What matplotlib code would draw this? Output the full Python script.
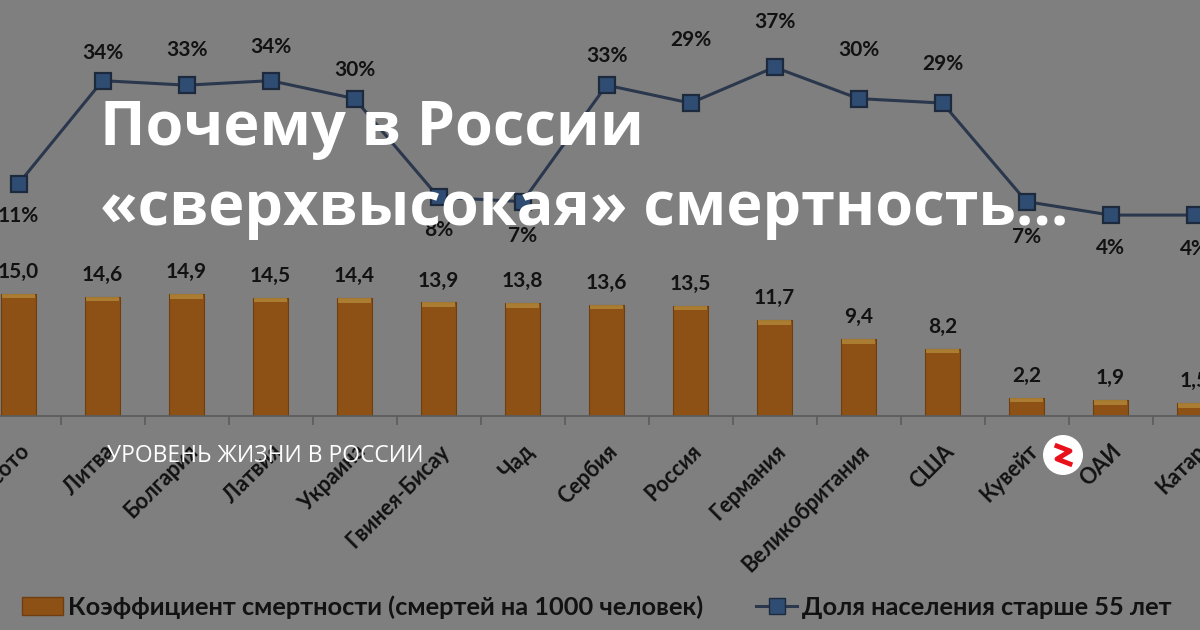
import matplotlib
matplotlib.use("Agg")
import matplotlib.pyplot as plt
import matplotlib.transforms as mtransforms
from matplotlib.patches import Patch, Circle
from matplotlib.lines import Line2D
import numpy as np

# ---------------- data ----------------
countries = ["Лесото", "Литва", "Болгария", "Латвия", "Украина", "Гвинея-Бисау",
             "Чад", "Сербия", "Россия", "Германия", "Великобритания", "США",
             "Кувейт", "ОАИ", "Катар"]
death_rate = [15.0, 14.6, 14.9, 14.5, 14.4, 13.9, 13.8, 13.6, 13.5, 11.7, 9.4, 8.2, 2.2, 1.9, 1.5]
share_55 = [11, 34, 33, 34, 30, 8, 7, 33, 29, 37, 30, 29, 7, 4, 4]

bar_label = "Коэффициент смертности (смертей на 1000 человек)"
line_label = "Доля населения старше 55 лет"
title_1 = "Почему в России"
title_2 = "«сверхвысокая» смертность..."
subtitle = "УРОВЕНЬ ЖИЗНИ В РОССИИ"

# label offsets (pixels, negative = above) for percentage labels
pct_offsets = [32, -28, -35, -34, -29, 33, 34, -29, -63, -45, -49, -39, 35, 33, 34]

# ---------------- style ----------------
BG = "#7f7f7f"
BAR = "#8d5115"
BAR_EDGE = "#6e3e10"
BAR_TOP = "#b58c3c"
LINE = "#2a374c"
MK_FACE = "#2f4c72"
MK_EDGE = "#1d2a3d"
TXT = "#121212"
PT = 0.72  # points per pixel at dpi 100

plt.rcParams["font.family"] = ["Lato", "DejaVu Sans"]

fig = plt.figure(figsize=(12, 6.3), dpi=100, facecolor=BG)
W, H = 1200, 630
base_px = 415.5
ax = fig.add_axes([0, (H - base_px) / H, 1, base_px / H])
ax.set_facecolor("none")
x = np.arange(len(countries))
step = 84.0
x0 = 18.5

ax.bar(x, death_rate, width=0.42, color=BAR, edgecolor=BAR_EDGE, linewidth=0.8, zorder=2)
cap = 0.55
ax.bar(x, [cap] * len(x), bottom=[v - cap for v in death_rate], width=0.40,
       color=BAR_TOP, alpha=0.75, linewidth=0, zorder=3)

for xi, v in zip(x, death_rate):
    ax.annotate(f"{v:.1f}".replace(".", ","), (xi, v), xytext=(0, 22 * PT),
                textcoords="offset points", ha="center", va="center",
                fontsize=15, fontweight="bold", color=TXT)

for s in ["top", "left", "right"]:
    ax.spines[s].set_visible(False)
ax.spines["bottom"].set_color("#5c5c5c")
ax.spines["bottom"].set_linewidth(1.3)
ax.set_yticks([])
ax.set_xticks(np.arange(-0.5, len(x) + 0.5, 1))
ax.set_xticklabels([])
ax.tick_params(axis="x", direction="out", length=9 * PT, width=1.2, color="#5c5c5c")
ax.set_xlim(-x0 / step, (W - x0) / step)
ax.set_ylim(0, base_px / 8.13)

trans = mtransforms.blended_transform_factory(ax.transData, ax.transAxes)
for xi, name in zip(x, countries):
    ax.text(xi + 8 / step, (base_px - 448) / base_px, name, transform=trans,
            rotation=45, rotation_mode="anchor", ha="right", va="center",
            fontsize=15.5, fontweight="bold", color=TXT)

ax2 = ax.twinx()
ax2.set_facecolor("none")
ppu = 4.48
zero_h = base_px - 233
ax2.set_ylim(-zero_h / ppu, (base_px - zero_h) / ppu)
ax2.axis("off")
ax2.plot(x, share_55, color=LINE, linewidth=2.2, marker="s", markersize=11.5,
         markerfacecolor=MK_FACE, markeredgecolor=MK_EDGE, markeredgewidth=1.6, zorder=4)
for xi, v, off in zip(x, share_55, pct_offsets):
    ax2.annotate(f"{v}%", (xi, v), xytext=(0, -off * PT), textcoords="offset points",
                 ha="center", va="center", fontsize=15, fontweight="bold", color=TXT)

# legend
handles = [Patch(facecolor=BAR, edgecolor=BAR_EDGE, label=bar_label),
           Line2D([0], [0], color=LINE, linewidth=2.2, marker="s", markersize=11,
                  markerfacecolor=MK_FACE, markeredgecolor=MK_EDGE, label=line_label)]
leg = fig.legend(handles=handles, loc="center left", bbox_to_anchor=(22 / W, 1 - 607 / H),
                 ncol=2, frameon=False, handlelength=1.6, handletextpad=0.2,
                 columnspacing=2.1, borderaxespad=0, borderpad=0,
                 prop={"family": ["Lato", "DejaVu Sans"], "weight": "bold", "size": 18.3})
for t in leg.get_texts():
    t.set_color(TXT)

# title overlay
fig.text(100 / W, 1 - 145 / H, title_1, fontsize=44, fontweight="bold", color="white",
         family=["Open Sans", "DejaVu Sans"], va="baseline", ha="left")
fig.text(100 / W, 1 - 225 / H, title_2, fontsize=44, fontweight="bold", color="white",
         family=["Open Sans", "DejaVu Sans"], va="baseline", ha="left")
fig.text(107 / W, 1 - 462 / H, subtitle, fontsize=16.5, color="white",
         family=["Open Sans", "DejaVu Sans"], va="baseline", ha="left")

# dzen logo
lx, ly, r = 1063, H - 455, 20
fig.patches.append(Circle((lx, ly), r, transform=None, facecolor="white", edgecolor="none", zorder=10))
fig.add_artist(Line2D([lx - 6, lx + 7, lx - 6, lx + 7], [ly + 9, ly + 4, ly - 4, ly - 9],
                      transform=None, color="#e8101a", linewidth=3.5, zorder=11))

fig.savefig("out.png", dpi=100, facecolor=BG)
